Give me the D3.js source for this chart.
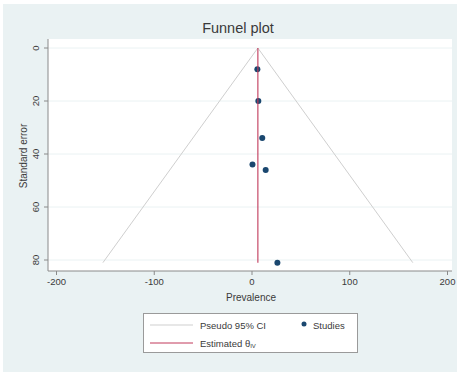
<!DOCTYPE html>
<html>
<head>
<meta charset="utf-8">
<script src="https://cdn.jsdelivr.net/npm/d3@7"></script>
<style>
  body { margin: 0; background: #ffffff; }
  text { font-family: "Liberation Sans", Arial, sans-serif; fill: #3a3a3a; }
</style>
</head>
<body>
<div id="chart"></div>
<script>
// chart size
const width = 457;
const height = 372;

// Study values (prevalence vs standard error)
const studyPrevalence = [6, 7, 11, 1, 14.5, 26.5];
const studySE = [8, 20, 34, 44, 46, 81];

// Pooled estimate and pseudo 95% CI limits
const estimate = 6.5;
const funnelSE = [0, 81];
const funnelLower = [6.5, -152];
const funnelUpper = [6.5, 165];

// Axis ticks
const xTicks = [-200, -100, 0, 100, 200];
const yTicks = [0, 20, 40, 60, 80];

const svg = d3.select("#chart")
    .append("svg")
    .attr("width", width)
    .attr("height", height);

// graph region background
svg.append("rect")
    .attr("x", 3).attr("y", 4)
    .attr("width", width - 3).attr("height", height - 4)
    .attr("fill", "#eaf2f3");

// plot region
const plot = { left: 48, right: 452, top: 39, bottom: 271 };
svg.append("rect")
    .attr("x", plot.left).attr("y", plot.top)
    .attr("width", plot.right - plot.left)
    .attr("height", plot.bottom - plot.top)
    .attr("fill", "#ffffff");

const x = d3.scaleLinear().domain([-200, 200]).range([56, 447]);
const y = d3.scaleLinear().domain([0, 80]).range([48, 260]);

// horizontal grid lines
svg.append("g")
    .selectAll("line")
    .data(yTicks)
    .enter().append("line")
    .attr("x1", plot.left).attr("x2", plot.right)
    .attr("y1", d => y(d)).attr("y2", d => y(d))
    .attr("stroke", "#eaf2f3")
    .attr("stroke-width", 1);

// axes (plain hyphen minus like the original)
const fmt = d => String(d);
const xAxis = svg.append("g")
    .attr("transform", `translate(0,${plot.bottom})`)
    .call(d3.axisBottom(x).tickValues(xTicks).tickFormat(fmt).tickSize(4).tickPadding(3));
xAxis.select(".domain").attr("d", `M${plot.left},0H${plot.right}`);

const yAxis = svg.append("g")
    .attr("transform", `translate(${plot.left},0)`)
    .call(d3.axisLeft(y).tickValues(yTicks).tickFormat(fmt).tickSize(4).tickPadding(3));
yAxis.select(".domain").attr("d", `M0,${plot.top}V${plot.bottom}`);

svg.selectAll(".domain").attr("stroke", "#8a8a8a");
svg.selectAll(".tick line").attr("stroke", "#8a8a8a");
xAxis.selectAll("text").attr("font-size", 9.5).attr("fill", "#3a3a3a");

// rotate y tick labels
yAxis.selectAll(".tick").attr("transform", null);
yAxis.selectAll(".tick line").attr("y1", d => y(d)).attr("y2", d => y(d));
yAxis.selectAll("text")
    .attr("font-size", 9.5)
    .attr("fill", "#3a3a3a")
    .attr("text-anchor", "middle")
    .attr("dominant-baseline", "central")
    .attr("x", 0).attr("y", 0).attr("dy", 0)
    .attr("transform", d => `translate(-13,${y(d)}) rotate(-90)`);

// axis titles
svg.append("text")
    .attr("x", 251).attr("y", 301)
    .attr("text-anchor", "middle")
    .attr("font-size", 10)
    .text("Prevalence");

svg.append("text")
    .attr("transform", "translate(23,156) rotate(-90)")
    .attr("text-anchor", "middle")
    .attr("dominant-baseline", "central")
    .attr("font-size", 10)
    .text("Standard error");

// title
svg.append("text")
    .attr("x", 238).attr("y", 33)
    .attr("text-anchor", "middle")
    .attr("font-size", 14.5)
    .text("Funnel plot");

// pseudo 95% CI lines
const ciLine = d3.line().x(d => x(d[0])).y(d => y(d[1]));
[funnelLower, funnelUpper].forEach(bound => {
    svg.append("path")
        .attr("d", ciLine(bound.map((v, i) => [v, funnelSE[i]])))
        .attr("fill", "none")
        .attr("stroke", "#cfcfcf")
        .attr("stroke-width", 1);
});

// studies
svg.append("g")
    .selectAll("circle")
    .data(studyPrevalence.map((p, i) => ({ p, se: studySE[i] })))
    .enter().append("circle")
    .attr("cx", d => x(d.p))
    .attr("cy", d => y(d.se))
    .attr("r", 3)
    .attr("fill", "#1a476f");

// estimated effect line
svg.append("line")
    .attr("x1", x(estimate)).attr("x2", x(estimate))
    .attr("y1", y(funnelSE[0])).attr("y2", y(funnelSE[1]))
    .attr("stroke", "#c1385a")
    .attr("stroke-opacity", 0.85)
    .attr("stroke-width", 1.3);

// legend
const legend = svg.append("g");
legend.append("rect")
    .attr("x", 143.5).attr("y", 313.5)
    .attr("width", 214).attr("height", 39)
    .attr("fill", "#ffffff")
    .attr("stroke", "#9a9a9a");

legend.append("line")
    .attr("x1", 150).attr("x2", 193).attr("y1", 325).attr("y2", 325)
    .attr("stroke", "#cfcfcf");
legend.append("text")
    .attr("x", 200).attr("y", 325)
    .attr("dominant-baseline", "central")
    .attr("font-size", 9.5)
    .text("Pseudo 95% CI");

legend.append("circle")
    .attr("cx", 304).attr("cy", 324).attr("r", 2.5)
    .attr("fill", "#1a476f");
legend.append("text")
    .attr("x", 313).attr("y", 325)
    .attr("dominant-baseline", "central")
    .attr("font-size", 9.5)
    .text("Studies");

legend.append("line")
    .attr("x1", 150).attr("x2", 193).attr("y1", 343).attr("y2", 343)
    .attr("stroke", "#c1385a");
const est = legend.append("text")
    .attr("x", 200).attr("y", 343)
    .attr("dominant-baseline", "central")
    .attr("font-size", 9.5);
est.append("tspan").text("Estimated θ");
est.append("tspan").attr("font-size", 6).attr("dy", 3).text("IV");
</script>
</body>
</html>
